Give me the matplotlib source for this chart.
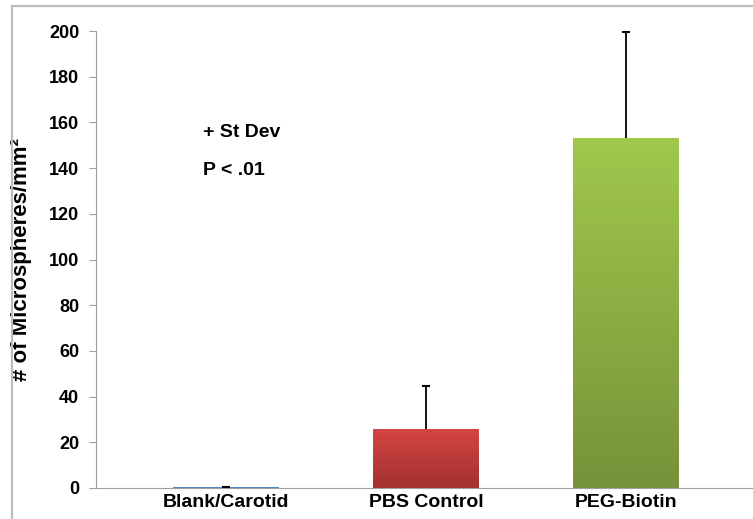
import numpy as np
import matplotlib.pyplot as plt
from matplotlib.patches import Rectangle
from matplotlib.colors import LinearSegmentedColormap

plt.rcParams['font.family'] = ['Liberation Sans', 'DejaVu Sans']
plt.rcParams['font.weight'] = 'bold'

# ---- data ----
groups = ["Blank/Carotid", "PBS Control", "PEG-Biotin"]
means = [0.3, 26, 153]
sd_upper = [0.3, 18.5, 46.5]
top_colors = ["#5b8fd0", "#d44543", "#a0c84c"]
bottom_colors = ["#3f6fae", "#a23130", "#76923a"]

fig = plt.figure(figsize=(7.53, 5.19), dpi=100)
fig.patch.set_facecolor("white")

# light grey frame round the chart area
frame = Rectangle((12 / 753, -0.05), 1.1, 1.05 - 6 / 519, transform=fig.transFigure,
                  fill=False, edgecolor="#bdbdbd", linewidth=1.6)
fig.patches.append(frame)

ax = fig.add_axes([96 / 753, 31 / 519, 660 / 753, 457 / 519])
x = np.arange(len(groups))
bars = ax.bar(x, means, width=0.53, color=top_colors, zorder=2)

# vertical gradient on each bar
for b, c_top, c_bot in zip(bars, top_colors, bottom_colors):
    cmap = LinearSegmentedColormap.from_list("g", [c_bot, c_top])
    grad = np.linspace(0, 1, 256).reshape(-1, 1)
    x0, y0 = b.get_x(), b.get_y()
    im = ax.imshow(grad, cmap=cmap, origin="lower", aspect="auto",
                   extent=(x0, x0 + b.get_width(), y0, y0 + b.get_height()), zorder=2)
    im.set_clip_path(b)

# upper-only error bars (+ St Dev)
tops = np.array(means) + np.array(sd_upper)
ax.vlines(x, means, tops, color="black", linewidth=1.3, zorder=3)
ax.hlines(tops, x - 0.02, x + 0.02, color="black", linewidth=1.5, zorder=3)

ax.set_xlim(-0.65, 2.65)
ax.set_ylim(0, 200)
ax.set_yticks(range(0, 201, 20))
ax.set_xticks(x)
ax.set_xticklabels(groups, fontsize=14, fontweight="bold")
ax.tick_params(axis="y", labelsize=13, direction="out", length=5, color="#a0a0a0", pad=7)
ax.tick_params(axis="x", length=0, pad=4)
for s in ["top", "right"]:
    ax.spines[s].set_visible(False)
for s in ["left", "bottom"]:
    ax.spines[s].set_color("#a0a0a0")

ax.set_ylabel("# of Microspheres/mm²", fontsize=16, fontweight="bold", labelpad=12)

ax.text(-0.115, 155.5, "+ St Dev", fontsize=14, fontweight="bold", va="center", ha="left")
ax.text(-0.115, 139, "P < .01", fontsize=14, fontweight="bold", va="center", ha="left")

plt.savefig("out.png", dpi=100)
